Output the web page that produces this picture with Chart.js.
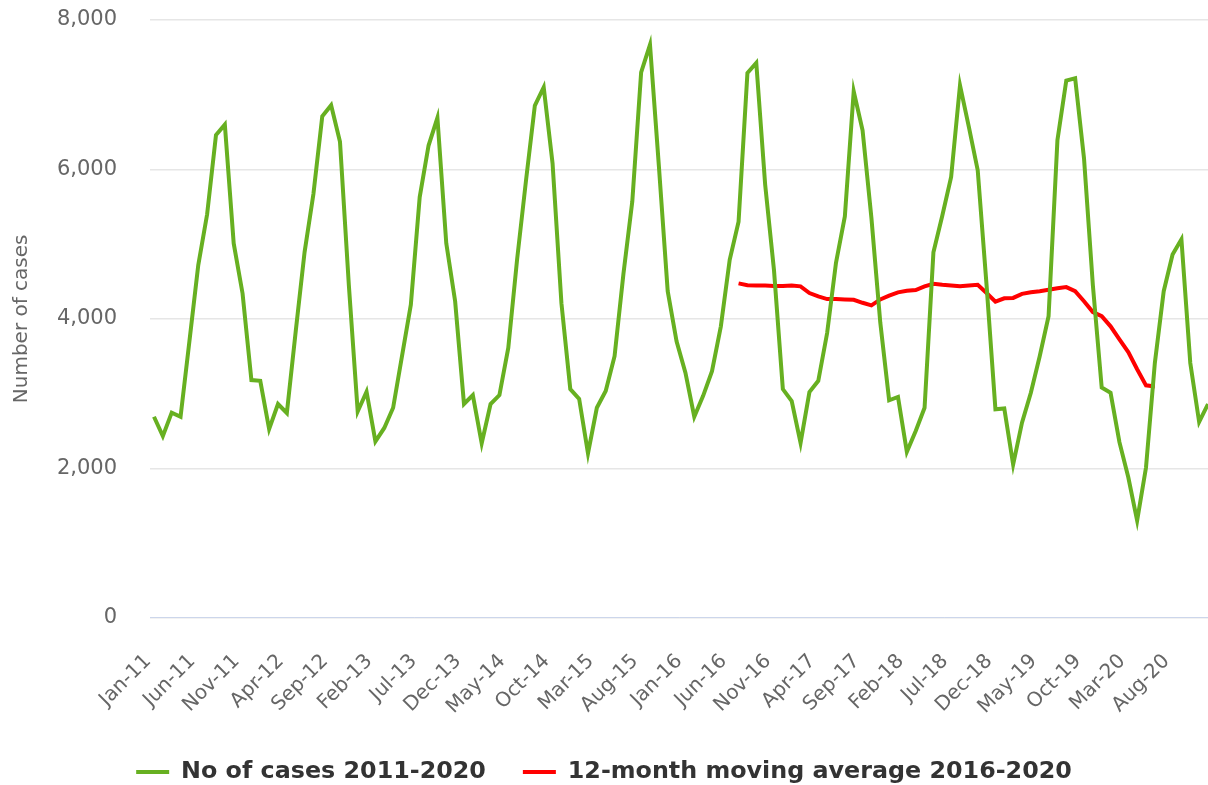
<!DOCTYPE html>
<html>
<head>
<meta charset="utf-8">
<script src="https://cdn.jsdelivr.net/npm/chart.js@4"></script>
<style>
  html, body { margin: 0; padding: 0; background: #fff; overflow: hidden; }
  .box { width: 1208px; height: 785px; position: relative; }
</style>
</head>
<body>
<div class="box"><canvas id="chart"></canvas></div>
<script>
// months Jan-11 .. Dec-20
const monthNames = ['Jan', 'Feb', 'Mar', 'Apr', 'May', 'Jun', 'Jul', 'Aug', 'Sep', 'Oct', 'Nov', 'Dec'];
const years = ['11', '12', '13', '14', '15', '16', '17', '18', '19', '20'];
const tickEvery = 5;

const cases = [
    2690, 2430, 2745, 2690, 3700, 4720, 5400, 6460, 6600, 5010, 4340, 3180,
    3170, 2525, 2860, 2740, 3830, 4890, 5670, 6710, 6860, 6370, 4450, 2760,
    3025, 2360, 2540, 2810, 3500, 4190, 5630, 6320, 6690, 5010, 4235, 2860,
    2980, 2335, 2860, 2980, 3610, 4800, 5850, 6855, 7100, 6080, 4210, 3060,
    2930, 2200, 2810, 3035, 3500, 4600, 5570, 7300, 7670, 6050, 4370, 3700,
    3280, 2690, 2970, 3300, 3900, 4790, 5300, 7290, 7425, 5800, 4650, 3060,
    2900, 2340, 3020, 3170, 3810, 4750, 5370, 7045, 6525, 5350, 3950, 2910,
    2955, 2220, 2500, 2810, 4890, 5380, 5900, 7125, 6570, 5990, 4450, 2790,
    2800, 2050, 2610, 3010, 3500, 4035, 6390, 7190, 7220, 6150, 4450, 3080,
    3010, 2350, 1880, 1300, 2010, 3410, 4370, 4860, 5065, 3410, 2620, 2860
];

// 12-month moving average, Jul-16 .. Jun-20
const avgStart = 66;
const movingAvg = [
    4475, 4450, 4445, 4445, 4440, 4440, 4445, 4435, 4345, 4300, 4265, 4265,
    4260, 4255, 4215, 4180, 4260, 4310, 4355, 4375, 4385, 4435, 4470, 4455,
    4445, 4435, 4445, 4455, 4345, 4230, 4275, 4280, 4335, 4355, 4370, 4390,
    4410, 4425, 4370, 4235, 4090, 4035, 3900, 3725, 3555, 3325, 3110, 3095
];

const yTicks = [0, 2000, 4000, 6000, 8000];

let monthLabels = [];
for (const y of years) {
    for (const m of monthNames) monthLabels.push(m + '-' + y);
}

const green = '#67B021';
const red = '#FF0000';
const FONT = "'DejaVu Sans', Verdana, sans-serif";

new Chart(document.getElementById('chart'), {
    type: 'line',
    data: {
        datasets: [
            {
                label: 'No of cases 2011-2020',
                data: cases.map((v, i) => ({ x: i, y: v })),
                borderColor: green,
                backgroundColor: green,
                borderWidth: 4,
                pointRadius: 0,
                tension: 0,
            },
            {
                label: '12-month moving average 2016-2020',
                data: movingAvg.map((v, i) => ({ x: avgStart + i, y: v })),
                borderColor: red,
                backgroundColor: red,
                borderWidth: 4,
                pointRadius: 0,
                tension: 0,
            }
        ]
    },
    options: {
        responsive: true,
        maintainAspectRatio: false,
        animation: false,
        layout: {
            padding: { top: 20, left: 0, right: 0, bottom: -9 }
        },
        scales: {
            x: {
                type: 'linear',
                min: -0.45,
                max: 119,
                afterBuildTicks: (s) => {
                    s.ticks = monthLabels.map((_, i) => i)
                        .filter(i => i % tickEvery === 0)
                        .map(i => ({ value: i }));
                },
                afterFit: (s) => {
                    s.height = 105.5;
                    s.paddingLeft = 0;
                    s.paddingRight = 0;
                },
                grid: { display: false },
                border: { display: true, color: '#ccd6eb', width: 1 },
                ticks: {
                    autoSkip: false,
                    minRotation: 45,
                    maxRotation: 45,
                    padding: 24,
                    labelOffset: -6,
                    color: '#666666',
                    font: { family: FONT, size: 20 },
                    callback: (v) => monthLabels[v]
                }
            },
            y: {
                min: 0,
                max: 8000,
                afterBuildTicks: (s) => { s.ticks = yTicks.map(v => ({ value: v })); },
                afterFit: (s) => {
                    s.width = 150;
                    s.paddingTop = 13;
                    s.paddingBottom = 13;
                },
                grid: { color: '#e6e6e6', lineWidth: 1.5, drawTicks: false },
                border: { display: false },
                ticks: {
                    padding: 33,
                    color: '#666666',
                    font: { family: FONT, size: 21 },
                    callback: (v) => v.toLocaleString('en-US')
                },
                title: {
                    display: true,
                    text: 'Number of cases',
                    color: '#666666',
                    font: { family: FONT, size: 20 },
                    padding: { top: 10, bottom: 0 }
                }
            }
        },
        plugins: {
            legend: {
                position: 'bottom',
                labels: {
                    usePointStyle: true,
                    pointStyle: 'line',
                    pointStyleWidth: 33,
                    padding: 37,
                    color: '#333333',
                    font: { family: FONT, size: 23.8, weight: 'bold' }
                }
            },
            tooltip: { enabled: false }
        }
    }
});
</script>
</body>
</html>
